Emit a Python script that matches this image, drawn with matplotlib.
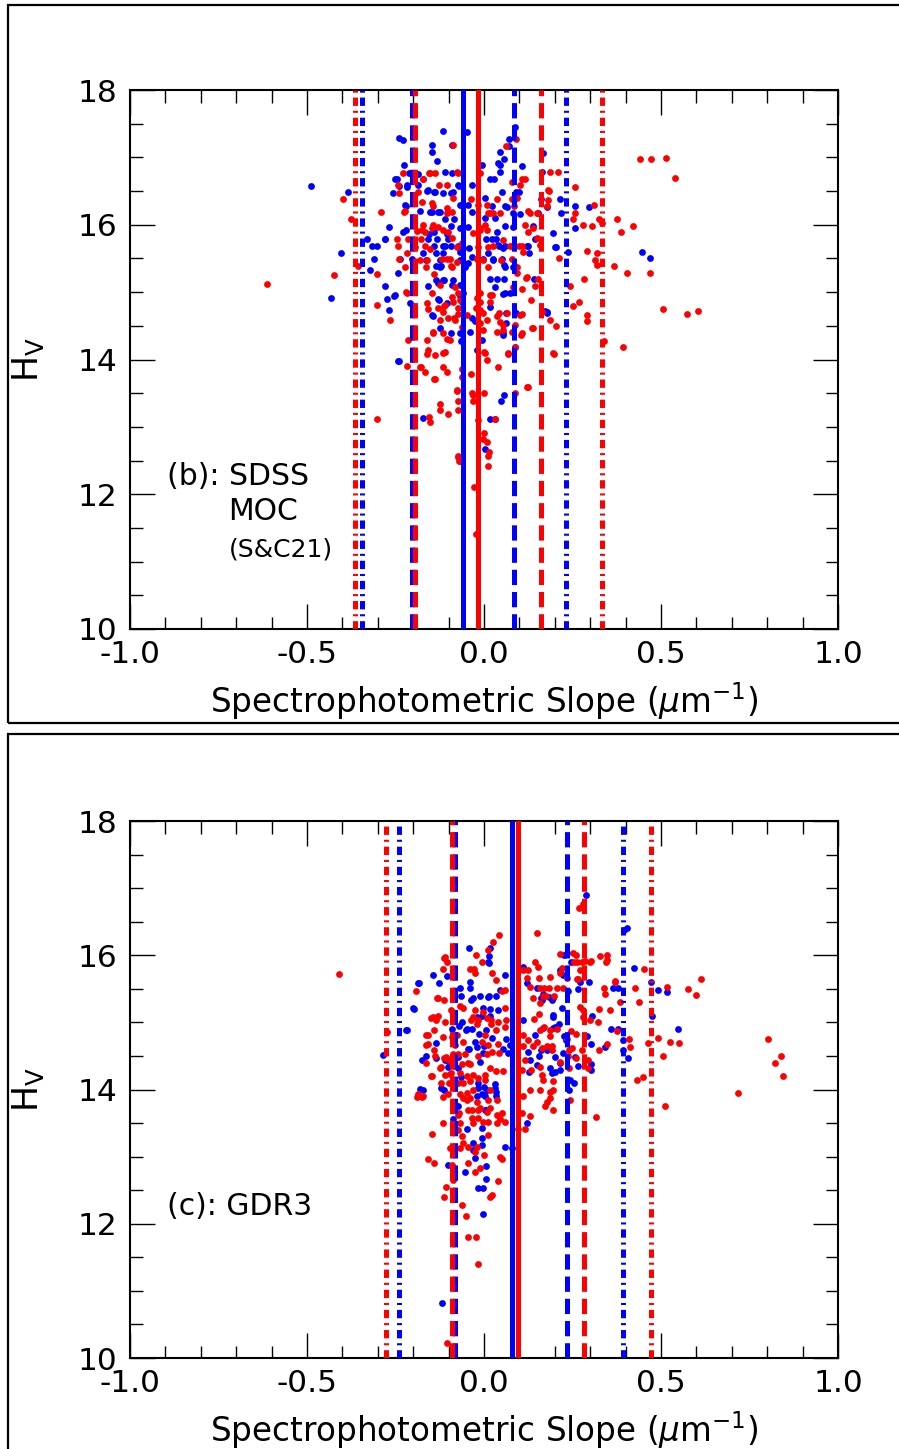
import matplotlib
matplotlib.use("Agg")
import matplotlib.pyplot as plt
import numpy as np
from matplotlib.patches import Rectangle
from matplotlib.ticker import MultipleLocator

# ---- panel (b): SDSS MOC (S&C21) -------------------------------------------
TOP_BLUE = [
    (-0.489, 16.58), (-0.384, 16.49), (-0.404, 15.58), (-0.432, 14.91), (-0.331, 15.79),
    (-0.316, 15.69), (-0.302, 15.69), (-0.280, 15.79), (-0.311, 15.49), (-0.322, 15.33),
    (-0.268, 15.97), (-0.274, 14.90), (-0.254, 14.94), (-0.268, 14.74), (-0.240, 13.98),
    (-0.240, 17.29), (-0.229, 17.26), (-0.116, 17.39), (-0.090, 17.18), (-0.147, 17.18),
    (-0.147, 17.08), (-0.133, 16.95), (-0.226, 16.89), (-0.246, 16.68), (-0.240, 16.58),
    (-0.257, 16.47), (-0.218, 16.56), (-0.212, 16.77), (-0.186, 16.75), (-0.110, 16.78),
    (-0.090, 16.77), (-0.172, 16.68), (-0.161, 16.50), (-0.141, 16.49), (-0.116, 16.47),
    (-0.093, 16.47), (-0.071, 16.58), (-0.034, 16.59), (-0.220, 16.28), (-0.181, 16.20),
    (-0.147, 16.19), (-0.124, 16.19), (-0.110, 16.09), (-0.085, 16.09), (-0.220, 15.92),
    (-0.141, 15.89), (-0.093, 15.98), (-0.102, 15.79), (-0.158, 15.79), (-0.133, 15.79),
    (-0.116, 15.69), (-0.093, 15.69), (-0.073, 15.69), (-0.068, 15.60), (-0.172, 15.58),
    (-0.136, 15.58), (-0.116, 15.58), (-0.164, 15.48), (-0.136, 15.39), (-0.121, 15.39),
    (-0.243, 15.28), (-0.136, 15.18), (-0.113, 15.18), (-0.088, 15.18), (-0.158, 15.09),
    (-0.130, 14.90), (-0.144, 14.65), (-0.124, 14.47), (-0.093, 14.39), (-0.068, 14.39),
    (-0.065, 14.28), (0.071, 17.27), (0.071, 17.17), (0.045, 17.08), (0.056, 16.98),
    (0.167, 17.07), (-0.006, 16.89), (0.045, 16.89), (0.107, 16.87), (0.045, 16.78),
    (0.017, 16.68), (0.028, 16.68), (0.164, 16.78), (0.051, 16.49), (0.090, 16.49),
    (0.099, 16.49), (0.003, 16.40), (0.023, 16.28), (0.059, 16.28), (0.161, 16.38),
    (0.215, 16.38), (0.257, 16.28), (0.297, 16.26), (0.218, 16.17), (0.082, 16.17),
    (0.102, 16.16), (0.153, 16.17), (0.003, 16.10), (0.257, 15.95), (0.037, 15.89),
    (0.023, 15.79), (0.138, 15.98), (0.195, 15.88), (0.006, 15.79), (0.034, 15.79),
    (0.144, 15.79), (0.042, 15.69), (0.054, 15.66), (0.124, 15.69), (0.127, 15.58),
    (0.203, 15.67), (0.237, 15.60), (0.446, 15.60), (0.469, 15.51), (-0.003, 15.49),
    (0.011, 15.58), (0.025, 15.49), (0.051, 15.49), (0.057, 15.40), (0.017, 15.20),
    (0.037, 15.20), (0.056, 15.20), (0.141, 15.20), (0.054, 14.97), (0.017, 14.78),
    (0.090, 14.69), (0.172, 14.72), (0.178, 14.69), (0.054, 14.36), (0.088, 14.19),
    (-0.048, 17.38), (0.088, 17.45), (0.040, 16.92), (0.065, 16.26), (0.178, 16.26),
    (-0.251, 16.68), (-0.218, 16.59), (-0.186, 16.59), (-0.158, 16.52), (-0.138, 16.49),
    (-0.088, 16.49), (-0.073, 16.59), (-0.223, 16.29), (-0.153, 16.19), (-0.130, 16.19),
    (-0.068, 16.29), (-0.045, 16.29), (-0.034, 16.19), (-0.229, 15.89), (-0.155, 15.87),
    (-0.105, 15.87), (-0.068, 15.95), (-0.045, 15.97), (0.031, 16.10), (0.059, 15.98),
    (0.082, 15.97), (0.201, 15.67), (-0.280, 15.79), (-0.141, 15.69), (-0.110, 15.69),
    (-0.059, 15.66), (-0.042, 15.66), (0.040, 15.70), (0.059, 15.69), (0.121, 15.69),
    (-0.237, 15.49), (-0.203, 15.49), (-0.124, 15.48), (-0.124, 15.37), (-0.068, 15.48),
    (-0.054, 15.37), (-0.045, 15.43), (-0.034, 15.52), (0.025, 15.48), (0.059, 15.37),
    (0.082, 15.37), (-0.280, 15.09), (-0.251, 14.96), (-0.130, 15.13), (-0.116, 15.18),
    (-0.090, 15.10), (-0.068, 15.10), (-0.059, 14.99), (0.031, 15.07), (0.059, 14.99),
    (0.073, 14.99), (-0.209, 14.84), (-0.127, 14.88), (-0.105, 14.84), (-0.147, 14.66),
    (-0.068, 14.94), (-0.062, 14.85), (-0.034, 14.62), (-0.025, 14.57), (0.062, 14.69),
    (0.062, 14.54), (0.054, 14.39), (0.178, 14.71), (-0.040, 14.41), (-0.062, 14.29),
    (-0.020, 14.14), (-0.006, 14.29), (0.048, 13.39), (0.056, 13.48), (-0.172, 13.13),
    (0.017, 13.12), (0.031, 13.12), (0.003, 12.67), (-0.243, 13.98),
]

TOP_RED = [
    (-0.398, 16.38), (-0.376, 16.09), (-0.613, 15.12), (-0.424, 15.25), (-0.356, 15.39),
    (-0.302, 15.27), (-0.291, 16.19), (-0.302, 14.81), (-0.266, 14.59), (-0.240, 16.47),
    (-0.155, 16.77), (-0.076, 16.78), (-0.127, 16.59), (-0.105, 16.59), (-0.088, 16.40),
    (-0.226, 16.19), (-0.144, 16.28), (-0.105, 16.25), (-0.172, 16.00), (-0.144, 16.00),
    (-0.189, 15.91), (-0.167, 15.89), (-0.116, 15.92), (-0.102, 15.89), (-0.246, 15.79),
    (-0.215, 15.79), (-0.178, 15.79), (-0.090, 15.80), (-0.243, 15.69), (-0.218, 15.58),
    (-0.153, 15.64), (-0.119, 15.49), (-0.096, 15.49), (-0.240, 15.49), (-0.223, 15.37),
    (-0.164, 15.37), (-0.093, 15.39), (-0.076, 15.45), (-0.141, 15.27), (-0.124, 15.11),
    (-0.082, 15.08), (-0.220, 15.00), (-0.147, 14.99), (-0.161, 14.84), (-0.158, 14.75),
    (-0.090, 14.93), (-0.088, 14.85), (-0.110, 14.81), (-0.116, 14.71), (-0.124, 14.59),
    (-0.085, 14.62), (-0.144, 14.41), (-0.116, 14.39), (-0.215, 14.29), (-0.161, 14.29),
    (-0.096, 14.29), (-0.161, 14.08), (-0.138, 14.07), (-0.116, 14.10),
    (0.441, 16.98), (0.472, 16.98), (0.514, 16.99), (0.540, 16.69), (0.090, 17.27),
    (0.062, 17.17), (0.209, 16.78), (0.107, 16.68), (0.116, 16.68), (0.102, 16.59),
    (0.184, 16.50), (0.257, 16.56), (0.093, 16.40), (0.037, 16.38), (0.085, 16.28),
    (0.178, 16.28), (0.311, 16.29), (0.257, 16.17), (0.011, 16.17), (0.025, 16.17),
    (0.045, 16.17), (0.130, 16.17), (0.003, 16.00), (-0.011, 15.95), (0.251, 16.09),
    (0.280, 16.00), (0.305, 15.98), (0.325, 16.09), (0.333, 16.03), (0.376, 16.09),
    (0.387, 15.89), (0.421, 15.98), (0.124, 15.89), (0.054, 15.77), (0.073, 15.69),
    (0.107, 15.69), (0.025, 15.69), (0.110, 15.60), (0.291, 15.61), (0.319, 15.58),
    (0.314, 15.48), (0.319, 15.40), (0.212, 15.51), (0.367, 15.39), (0.404, 15.28),
    (0.469, 15.28), (0.093, 15.28), (0.119, 15.21), (0.153, 15.20), (0.283, 15.20),
    (0.243, 15.09), (0.107, 15.05), (0.023, 14.96), (0.133, 14.88), (0.042, 14.69),
    (0.065, 14.69), (0.107, 14.68), (0.251, 14.80), (0.268, 14.85), (0.291, 14.66),
    (0.291, 14.57), (0.186, 14.59), (0.203, 14.50), (0.506, 14.75), (0.573, 14.68),
    (0.605, 14.72), (0.037, 14.41), (0.054, 14.51), (0.088, 14.51), (0.138, 14.47),
    (0.104, 14.36), (0.339, 14.28), (0.393, 14.19), (0.068, 14.08), (0.198, 14.08),
    (0.000, 14.11), (0.008, 13.99), (-0.218, 13.90), (-0.178, 13.89), (-0.167, 13.82),
    (-0.116, 13.89), (-0.105, 13.82), (-0.141, 13.71), (-0.062, 13.86), (-0.037, 13.79),
    (0.003, 14.10), (0.040, 13.89), (0.088, 14.19), (0.124, 13.59), (-0.076, 13.53),
    (-0.073, 13.39), (-0.034, 13.50), (-0.031, 13.39), (0.000, 13.50), (0.088, 13.50),
    (-0.124, 13.34), (-0.102, 13.19), (-0.302, 13.12), (-0.155, 13.15), (0.000, 12.91),
    (-0.017, 13.10), (-0.073, 12.55), (-0.071, 12.50), (0.014, 12.63), (0.011, 12.42),
    (-0.028, 12.11), (-0.023, 11.41), (-0.088, 17.18), (-0.230, 16.77), (-0.153, 16.77),
    (-0.138, 16.77), (-0.073, 16.77), (-0.011, 16.77), (0.079, 16.63), (0.186, 16.78),
    (0.181, 16.52), (-0.243, 16.59), (-0.172, 16.68), (-0.186, 16.49), (-0.037, 16.38),
    (0.079, 16.38), (0.181, 16.37), (-0.223, 16.20), (-0.201, 16.37), (-0.175, 16.34),
    (-0.147, 16.32), (-0.105, 16.17), (-0.090, 16.19), (-0.017, 16.29), (0.008, 16.29),
    (0.017, 16.17), (0.124, 16.20), (0.150, 16.17), (-0.175, 15.92), (-0.147, 15.95),
    (-0.130, 15.97), (-0.031, 15.88), (-0.011, 15.92), (0.008, 15.92), (0.116, 16.00),
    (0.138, 15.95), (0.150, 15.80), (0.158, 15.70), (-0.195, 15.67), (-0.167, 15.69),
    (-0.076, 15.67), (-0.062, 15.73), (-0.017, 15.67), (0.011, 15.67), (0.079, 15.69),
    (0.099, 15.69), (-0.181, 15.48), (-0.161, 15.48), (-0.105, 15.49), (-0.090, 15.37),
    (-0.020, 15.49), (-0.003, 15.48), (0.011, 15.37), (0.048, 15.48), (0.079, 15.49),
    (0.093, 15.37), (0.121, 15.22), (0.144, 15.09), (-0.218, 14.99), (-0.073, 14.99),
    (-0.011, 14.99), (0.017, 14.96), (0.082, 15.08), (-0.130, 14.77), (-0.113, 14.80),
    (-0.102, 14.62), (-0.082, 14.59), (-0.073, 14.68), (-0.048, 14.66), (-0.073, 14.77),
    (-0.068, 14.88), (-0.023, 14.77), (-0.011, 14.74), (-0.003, 14.69), (-0.020, 14.91),
    (-0.011, 14.85), (0.017, 14.86), (0.008, 14.59), (0.037, 14.65), (0.045, 14.56),
    (0.054, 14.44), (0.079, 14.41), (0.102, 14.66), (0.107, 14.39), (0.136, 14.47),
    (0.164, 14.71), (0.195, 14.10), (-0.062, 14.48), (-0.011, 14.54), (-0.003, 14.44),
    (-0.105, 14.31), (-0.144, 14.39), (-0.158, 14.14), (-0.110, 14.11), (0.068, 14.10),
    (-0.181, 13.89), (-0.138, 13.71), (0.121, 13.59), (-0.062, 13.74), (-0.076, 13.55),
    (-0.073, 13.25), (-0.031, 13.47), (-0.124, 13.25), (-0.153, 13.07), (0.031, 13.12),
    (-0.003, 12.82), (0.008, 12.78), (0.011, 12.57), (-0.073, 12.57), (-0.068, 12.50),
]

# vertical reference lines: -2 sigma, -1 sigma, mean, +1 sigma, +2 sigma
TOP_BLUE_LINES = [-0.345, -0.203, -0.059, 0.085, 0.232]
TOP_RED_LINES = [-0.365, -0.195, -0.017, 0.161, 0.333]

# ---- panel (c): GDR3 -------------------------------------------------------
BOT_BLUE = [
    (-0.285, 14.51), (-0.218, 14.89), (-0.198, 15.20), (-0.184, 15.59), (-0.144, 15.70),
    (-0.127, 15.59), (-0.105, 15.69), (-0.042, 16.11), (0.011, 15.90), (-0.040, 15.60),
    (-0.040, 15.51), (-0.068, 15.51), (-0.065, 15.39), (-0.031, 15.36), (-0.011, 15.39),
    (0.011, 15.38), (-0.006, 15.09), (-0.090, 14.90), (-0.062, 15.00), (-0.048, 14.90),
    (-0.034, 14.90), (-0.136, 14.69), (-0.025, 14.71), (-0.020, 14.64), (-0.042, 14.60),
    (-0.164, 14.50), (-0.136, 14.47), (-0.099, 14.41), (-0.073, 14.48), (-0.011, 14.41),
    (-0.003, 14.54), (-0.073, 14.32), (-0.017, 14.10), (-0.181, 14.01), (-0.172, 13.99),
    (-0.121, 14.02), (-0.017, 14.02), (0.008, 14.00), (0.031, 14.02), (-0.020, 13.91),
    (0.003, 13.91), (0.034, 13.91), (-0.073, 13.75), (0.006, 13.69), (-0.088, 13.56),
    (0.121, 13.50), (-0.006, 13.43), (-0.048, 13.41), (-0.031, 13.20), (-0.006, 13.28),
    (-0.006, 13.17), (0.059, 13.14), (0.079, 13.13), (-0.031, 13.10), (-0.025, 12.98),
    (-0.102, 12.87), (-0.054, 12.77), (0.006, 12.86), (0.006, 12.66), (-0.017, 12.53),
    (-0.003, 12.53), (-0.003, 12.14), (-0.119, 10.82), (0.017, 16.11), (0.014, 15.99),
    (0.014, 15.88), (-0.186, 15.59), (0.059, 15.70), (0.110, 15.82), (0.121, 15.59),
    (0.150, 15.51), (0.184, 15.38), (0.195, 15.36), (-0.037, 15.33), (0.014, 15.39),
    (0.034, 15.39), (0.045, 15.48), (-0.201, 15.21), (-0.003, 15.21), (0.017, 15.20),
    (0.040, 15.18), (-0.020, 15.08), (0.017, 15.09), (-0.220, 14.89), (-0.071, 14.95),
    (-0.051, 14.89), (-0.014, 14.83), (0.006, 14.89), (0.023, 14.76), (0.062, 14.75),
    (0.073, 14.66), (-0.045, 14.60), (0.000, 14.65), (0.054, 14.60), (0.068, 14.54),
    (-0.175, 14.44), (-0.110, 14.44), (-0.102, 14.34), (-0.065, 14.19), (0.000, 14.03),
    (0.031, 14.08), (0.034, 13.97), (-0.113, 14.00), (-0.006, 13.94), (0.003, 13.69),
    (0.161, 15.37), (0.144, 14.81), (0.124, 14.56), (0.161, 14.59), (0.155, 14.50),
    (0.110, 15.03), (0.130, 14.44), (0.150, 14.37), (0.192, 14.25), (0.215, 14.29),
    (0.127, 14.26), (0.195, 15.11), (0.201, 14.93), (0.234, 16.03), (0.226, 16.00),
    (0.246, 15.90), (0.223, 15.70), (0.297, 15.60), (0.237, 15.47), (0.266, 15.50),
    (0.364, 15.51), (0.424, 15.81), (0.472, 15.60), (0.492, 15.48), (0.517, 15.45),
    (0.475, 15.09), (0.164, 15.33), (0.192, 15.33), (0.167, 15.42), (0.220, 15.21),
    (0.195, 15.08), (0.305, 15.09), (0.167, 14.92), (0.195, 14.92), (0.212, 14.98),
    (0.226, 14.80), (0.232, 14.74), (0.291, 14.80), (0.302, 14.68), (0.359, 14.90),
    (0.379, 14.90), (0.342, 14.63), (0.393, 14.74), (0.393, 14.59), (0.407, 14.47),
    (0.548, 14.90), (0.178, 14.59), (0.223, 14.54), (0.201, 14.48), (0.215, 14.39),
    (0.257, 14.48), (0.266, 14.35), (0.302, 14.38), (0.302, 14.29), (0.186, 14.32),
    (0.201, 14.26), (0.243, 14.14), (0.254, 14.10), (0.240, 13.99), (0.288, 16.90),
    (0.404, 16.40), (0.395, 16.38), (0.215, 15.78), (0.271, 15.60), (0.378, 15.51),
]

BOT_RED = [
    (-0.410, 15.72), (-0.274, 14.86), (-0.192, 15.47), (-0.113, 15.96), (-0.105, 15.90),
    (-0.116, 15.79), (-0.088, 15.79), (-0.023, 16.00), (-0.006, 15.90), (-0.028, 15.79),
    (-0.133, 15.36), (-0.113, 15.33), (-0.003, 15.16), (0.008, 15.06), (-0.144, 15.08),
    (-0.130, 15.09), (-0.110, 15.00), (-0.031, 15.08), (-0.017, 15.04), (-0.164, 14.81),
    (-0.141, 14.89), (-0.158, 14.68), (-0.141, 14.59), (-0.090, 14.78), (-0.082, 14.66),
    (-0.059, 14.71), (-0.006, 14.71), (0.003, 14.81), (-0.164, 14.39), (-0.113, 14.47),
    (-0.088, 14.53), (-0.073, 14.53), (-0.054, 14.53), (-0.045, 14.39), (-0.121, 14.33),
    (-0.110, 14.21), (-0.093, 14.24), (-0.068, 14.24), (-0.147, 14.20), (-0.059, 14.09),
    (-0.040, 14.12), (-0.031, 14.21), (0.003, 14.21), (-0.121, 14.09), (-0.099, 14.09),
    (-0.073, 14.09), (-0.189, 13.89), (-0.175, 13.89), (-0.116, 13.89), (-0.059, 13.87),
    (-0.040, 13.87), (-0.020, 13.81), (0.011, 13.84), (0.037, 13.84), (-0.034, 13.69),
    (-0.011, 13.72), (0.017, 13.72), (0.037, 13.62), (0.051, 13.65), (-0.073, 13.62),
    (-0.068, 13.50), (-0.034, 13.57), (-0.017, 13.57), (0.011, 13.51), (0.045, 13.56),
    (0.059, 13.51), (-0.116, 13.50), (-0.031, 13.50), (-0.003, 13.51), (0.037, 13.50),
    (0.096, 13.41), (0.116, 13.41), (-0.073, 13.39), (-0.062, 13.31), (-0.147, 13.34),
    (-0.059, 13.20), (-0.045, 13.14), (-0.020, 13.14), (0.011, 13.32), (-0.096, 13.13),
    (-0.068, 13.13), (-0.025, 13.07), (0.000, 13.02), (0.045, 12.99), (0.051, 12.96),
    (-0.158, 12.96), (-0.141, 12.90), (-0.090, 12.87), (-0.088, 12.75), (-0.088, 12.65),
    (-0.045, 12.90), (-0.025, 12.77), (-0.011, 12.83), (0.040, 12.63), (-0.107, 12.55),
    (-0.113, 12.40), (0.017, 12.40), (0.023, 12.43), (-0.062, 12.28), (-0.051, 12.11),
    (-0.045, 11.80), (-0.023, 11.80), (-0.017, 11.40), (-0.105, 10.22),
    (0.042, 16.30), (0.025, 16.20), (0.011, 16.08), (-0.110, 15.97), (-0.040, 15.79),
    (-0.025, 15.73), (0.023, 15.73), (0.034, 15.63), (0.150, 16.33), (0.144, 15.90),
    (0.124, 15.78), (0.130, 15.53), (0.155, 15.66), (0.169, 15.51), (0.175, 15.39),
    (-0.130, 15.36), (0.051, 15.46), (0.059, 15.48), (-0.093, 15.18), (-0.150, 15.06),
    (-0.068, 15.25), (-0.059, 15.22), (-0.025, 15.18), (0.020, 15.03), (0.040, 15.01),
    (0.059, 15.21), (0.062, 15.03), (-0.136, 15.03), (-0.037, 15.03), (-0.020, 14.98),
    (0.020, 14.98), (0.034, 14.89), (0.059, 14.93), (-0.158, 14.81), (-0.164, 14.66),
    (-0.116, 14.78), (-0.076, 14.81), (0.011, 14.66), (0.040, 14.68), (-0.017, 14.50),
    (0.008, 14.53), (0.023, 14.56), (0.042, 14.54), (-0.138, 14.50), (-0.107, 14.48),
    (-0.099, 14.44), (-0.062, 14.38), (-0.040, 14.38), (0.017, 14.32), (0.034, 14.28),
    (0.054, 14.28), (-0.124, 14.32), (-0.096, 14.23), (-0.088, 14.13), (-0.150, 14.20),
    (-0.048, 14.20), (-0.017, 14.17), (0.003, 14.14), (0.017, 13.99), (-0.031, 13.99),
    (-0.048, 13.95), (-0.186, 13.93), (-0.172, 13.91), (-0.102, 13.93), (-0.068, 13.94),
    (-0.048, 13.84), (-0.071, 13.65), (-0.045, 13.69), (-0.017, 13.69), (0.008, 13.66),
    (0.110, 15.78), (0.121, 15.66), (0.138, 15.36), (0.158, 15.29), (0.155, 15.13),
    (0.141, 15.05), (0.169, 14.93), (0.186, 14.89), (0.206, 14.90), (0.110, 14.81),
    (0.124, 14.74), (0.150, 14.71), (0.164, 14.62), (0.192, 14.65), (0.110, 14.65),
    (0.138, 14.65), (0.116, 14.44), (0.107, 14.29), (0.133, 14.29), (0.164, 14.21),
    (0.195, 14.13), (0.195, 13.99), (0.110, 13.91), (0.130, 13.99), (0.178, 13.81),
    (0.195, 13.69), (0.107, 13.65), (0.130, 13.60), (0.251, 16.03), (0.260, 16.00),
    (0.328, 15.99), (0.347, 16.00), (0.347, 15.93), (0.263, 15.90), (0.277, 15.90),
    (0.285, 15.91), (0.302, 15.91), (0.220, 15.81), (0.215, 15.73), (0.234, 15.66),
    (0.263, 15.65), (0.271, 15.78), (0.158, 15.51), (0.184, 15.51), (0.206, 15.51),
    (0.223, 15.51), (0.339, 15.51), (0.342, 15.42), (0.370, 15.60), (0.452, 15.79),
    (0.427, 15.51), (0.517, 15.53), (0.576, 15.50), (0.599, 15.41), (0.613, 15.65),
    (0.438, 15.30), (0.384, 15.30), (0.356, 15.18), (0.325, 15.20), (0.167, 15.39),
    (0.198, 15.39), (0.271, 15.23), (0.280, 15.18), (0.280, 15.08), (0.299, 15.03),
    (0.322, 15.00), (0.158, 14.89), (0.186, 14.80), (0.178, 14.65), (0.192, 14.59),
    (0.246, 14.87), (0.260, 14.83), (0.234, 14.75), (0.249, 14.62), (0.277, 14.59),
    (0.240, 14.59), (0.376, 14.87), (0.347, 14.68), (0.325, 14.59), (0.410, 14.75),
    (0.412, 14.63), (0.463, 14.69), (0.492, 14.77), (0.525, 14.71), (0.551, 14.69),
    (0.506, 14.50), (0.215, 14.41), (0.237, 14.50), (0.158, 14.33), (0.167, 14.14),
    (0.260, 14.47), (0.294, 14.44), (0.294, 14.32), (0.240, 14.32), (0.186, 13.97),
    (0.158, 14.00), (0.243, 13.84), (0.186, 13.87), (0.172, 13.75), (0.432, 14.14),
    (0.449, 14.18), (0.511, 13.75), (0.316, 13.59), (0.802, 14.75), (0.822, 14.39),
    (0.839, 14.50), (0.845, 14.20), (0.718, 13.95), (0.268, 16.70), (0.280, 16.76),
    (0.153, 15.82), (0.186, 15.68), (0.215, 16.02), (0.254, 15.90), (0.299, 15.90),
    (0.345, 15.90), (0.266, 15.65), (0.370, 15.61),
]

BOT_BLUE_LINES = [-0.240, -0.082, 0.079, 0.235, 0.393]
BOT_RED_LINES = [-0.277, -0.090, 0.096, 0.283, 0.472]

LINE_STYLES = ["dashdot", "dashed", "solid", "dashed", "dashdot"]
# dash patterns in points (not scaled by line width)
DASHES = {"dashed": (11, 5), "dashdot": (6, 3.5, 1.5, 3.5)}

XLABEL = r"Spectrophotometric Slope ($\mu$m$^{-1}$)"
YLABEL = r"H$_\mathrm{V}$"

W, H = 899, 1449
plt.rcParams.update({
    "font.family": "DejaVu Sans",
    "mathtext.fontset": "dejavusans",
    "lines.scale_dashes": False,
})


def vline(ax, x, color, style):
    ln = ax.axvline(x, color=color, lw=3.6, zorder=3)
    if style != "solid":
        ln.set_dashes(DASHES[style])
        ln.set_dash_capstyle("butt")


def panel(ax, blue, red, blue_lines, red_lines):
    b = np.array(blue)
    r = np.array(red)
    ax.scatter(b[:, 0], b[:, 1], s=24, color="#0000ff", lw=0, zorder=2)
    ax.scatter(r[:, 0], r[:, 1], s=24, color="#ff0000", lw=0, zorder=2)
    for x, st in zip(blue_lines, LINE_STYLES):
        vline(ax, x, "#0000ff", st)
    for x, st in zip(red_lines, LINE_STYLES):
        vline(ax, x, "#ff0000", st)

    ax.set_xlim(-1.0, 1.0)
    ax.set_ylim(10, 18)
    ax.xaxis.set_minor_locator(MultipleLocator(0.1))
    ax.yaxis.set_major_locator(MultipleLocator(2))
    ax.yaxis.set_minor_locator(MultipleLocator(0.5))
    ax.set_xticks([-1.0, -0.5, 0.0, 0.5, 1.0])
    ax.set_xticklabels(["-1.0", "-0.5", "0.0", "0.5", "1.0"])
    ax.tick_params(which="both", direction="in", top=True, right=True, width=1.0)
    ax.tick_params(which="major", length=18, labelsize=22.5)
    ax.tick_params(which="minor", length=9)
    ax.tick_params(axis="x", which="major", pad=8)
    ax.tick_params(axis="y", which="major", pad=9)
    for sp in ax.spines.values():
        sp.set_linewidth(1.5)

    ax.set_xlabel(XLABEL, fontsize=23.5)
    ax.xaxis.set_label_coords(0.5, -0.095)
    ax.set_ylabel(YLABEL, fontsize=25)
    ax.yaxis.set_label_coords(-0.118, 0.5)


fig = plt.figure(figsize=(W / 100, H / 100), dpi=100)

ax_top = fig.add_axes([130 / W, 1 - 629 / H, 708 / W, 539 / H])
panel(ax_top, TOP_BLUE, TOP_RED, TOP_BLUE_LINES, TOP_RED_LINES)
ax_top.text(-0.895, 12.26, "(b): SDSS", fontsize=21.5, va="center", ha="left")
ax_top.text(-0.722, 11.74, "MOC", fontsize=21.5, va="center", ha="left")
ax_top.text(-0.722, 11.18, "(S&C21)", fontsize=18, va="center", ha="left")

ax_bot = fig.add_axes([130 / W, 1 - 1358 / H, 708 / W, 537 / H])
panel(ax_bot, BOT_BLUE, BOT_RED, BOT_BLUE_LINES, BOT_RED_LINES)
ax_bot.text(-0.895, 12.26, "(c): GDR3", fontsize=21.5, va="center", ha="left")

# panel frames
fig.add_artist(Rectangle((8 / W, 1 - 723 / H), 1.0, (723 - 5) / H,
                         transform=fig.transFigure, fill=False, lw=1.6, ec="black"))
fig.add_artist(Rectangle((8 / W, -0.05), 1.0, 0.05 + 1 - 734 / H,
                         transform=fig.transFigure, fill=False, lw=1.6, ec="black"))

fig.savefig("out.png", dpi=100)
